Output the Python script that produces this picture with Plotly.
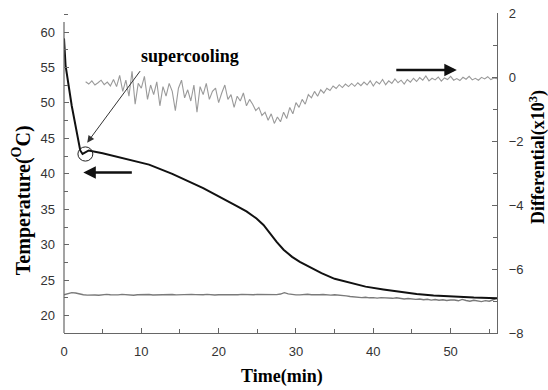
import plotly.graph_objects as go

# ---- data ----
# main (black) temperature curve, left axis
temp_time = [0.0, 0.2, 1.0, 2.1, 2.4, 2.8, 3.2, 5.0, 8.0, 11.0, 14.0, 16.3, 18.0, 19.7,
             21.0, 22.3, 23.6, 24.9, 25.8, 26.6, 27.5, 28.4, 29.5, 30.5, 32.0, 33.3,
             35.0, 37.0, 39.0, 41.3, 43.5, 45.6, 47.8, 49.9, 53.0, 56.0]
temp_main = [59.1, 55.3, 49.6, 43.3, 42.8, 43.0, 43.3, 42.9, 42.1, 41.3, 40.0, 38.9, 38.0, 37.0,
             36.3, 35.5, 34.7, 33.7, 32.8, 31.6, 30.4, 29.3, 28.3, 27.6, 26.7, 26.0,
             25.2, 24.6, 24.1, 23.7, 23.35, 23.05, 22.85, 22.7, 22.55, 22.45]

# lower (grey) temperature curve, left axis, sampled every 0.5 min
ref_step = 0.5
temp_ref = [22.95, 23.15, 23.25, 23.20, 23.05, 22.95, 22.90, 22.95, 22.92, 22.88, 22.95,
            23.00, 22.95, 22.90, 22.93, 23.00, 22.97, 22.90, 22.88, 22.95, 22.98,
            23.02, 22.98, 22.92, 22.95, 22.90, 22.96, 23.02, 22.99, 22.94, 22.97,
            22.90, 22.95, 23.00, 22.97, 22.93, 22.96, 23.01, 22.95, 22.91, 22.96,
            22.94, 22.99, 22.96, 22.92, 22.95, 23.00, 22.97, 22.93, 22.96, 22.99,
            22.98, 23.00, 22.95, 23.02, 22.97, 23.05, 23.25, 23.08, 22.97, 22.94,
            22.93, 22.98, 23.02, 22.96, 22.92, 22.95, 22.99, 22.94, 22.90, 22.95,
            22.92, 22.88, 22.80, 22.70, 22.62, 22.58, 22.55, 22.60, 22.52, 22.55,
            22.48, 22.55, 22.50, 22.42, 22.45, 22.52, 22.40, 22.35, 22.42, 22.33,
            22.30, 22.35, 22.25, 22.32, 22.20, 22.28, 22.18, 22.25, 22.15, 22.22,
            22.22, 22.10, 22.30, 22.15, 22.05, 22.18, 22.08, 21.98, 22.12, 22.05,
            22.25, 22.45]
ref_time = [ref_step * i for i in range(len(temp_ref))]

# differential signal (x10^3), right axis, sampled every 0.4 min from 2.8 min
diff_start = 2.8
diff_step = 0.4
differential = [
    -0.15, -0.22, -0.12, -0.25, -0.18, -0.10, -0.24, -0.16, -0.28, -0.08,
    -0.30, 0.05, -0.45, -0.10, -0.60, 0.18, -0.85, -0.20, -0.35, 0.02, -0.70,
    -0.25, -0.55, -0.15, -0.90, -0.30, -0.60, -0.20, -0.45, -1.05, -0.35, -0.10,
    -0.65, -0.40, -0.75, -0.25, -1.10, -0.30, -0.55, -0.20, -0.70, -0.45,
    -0.35, -0.80, -0.50, -0.25, -0.70, -0.55, -0.95, -0.60, -0.75, -0.50, -0.90, -0.70, -0.85,
    -1.05, -0.95, -1.20, -1.10, -1.35, -1.15, -1.45, -1.25, -1.40, -1.10,
    -1.30, -0.95, -1.15, -0.80, -0.95, -0.70, -0.85, -0.55, -0.65, -0.45, -0.60, -0.40, -0.50, -0.35,
    -0.42, -0.28, -0.36, -0.24, -0.33, -0.22, -0.30, -0.20, -0.29, -0.18, -0.27, -0.16, -0.25, -0.12,
    -0.28, -0.14, -0.22, -0.08, -0.24, -0.12, -0.20, -0.06, -0.18, -0.10, -0.22, -0.08, -0.16, -0.04,
    -0.14, -0.02, -0.10, 0.03, -0.12, -0.04, -0.09, 0.00, -0.13, -0.03, -0.08, 0.02, -0.10, -0.05,
    -0.11, -0.01, -0.07, 0.02, -0.09, -0.04, -0.10, -0.01, -0.06, 0.01, -0.08, -0.03, -0.05]
diff_time = [diff_start + diff_step * i for i in range(len(differential))]

x_title = "Time(min)"
y_title = "Temperature(<sup>O</sup>C)"
y2_title = "Differential(x10<sup>3</sup>)"
note = "supercooling"

# ---- figure ----
fig = go.Figure()
fig.add_trace(go.Scatter(x=ref_time, y=temp_ref, mode="lines",
                         line=dict(color="#7a7a7a", width=1.4), yaxis="y"))
fig.add_trace(go.Scatter(x=diff_time, y=differential, mode="lines",
                         line=dict(color="#9a9a9a", width=1.1), yaxis="y2"))
fig.add_trace(go.Scatter(x=temp_time, y=temp_main, mode="lines",
                         line=dict(color="#111111", width=2), yaxis="y"))

axis_col = "#666666"
tick_font = dict(family="Liberation Sans, Arial, sans-serif", size=13, color="#333333")
title_font = dict(family="Liberation Serif, Times New Roman, serif", size=18, color="#000000")

fig.update_layout(
    width=548, height=390,
    margin=dict(l=64, r=51, t=13, b=57, autoexpand=False),
    paper_bgcolor="white", plot_bgcolor="white",
    showlegend=False,
    xaxis=dict(range=[0, 56], dtick=10, tick0=0, ticks="inside", ticklen=5, tickcolor=axis_col,
               minor=dict(dtick=5, ticks="inside", ticklen=4, tickcolor=axis_col),
               showline=True, linecolor=axis_col, linewidth=1.2, showgrid=False, zeroline=False,
               tickfont=tick_font, ticklabelstandoff=6),
    yaxis=dict(range=[17.56, 62.68], dtick=5, tick0=0, ticks="inside", ticklen=5, tickcolor=axis_col,
               minor=dict(dtick=2.5, ticks="inside", ticklen=4, tickcolor=axis_col),
               showline=False, showgrid=False, zeroline=False,
               tickfont=tick_font, ticklabelstandoff=8),
    yaxis2=dict(range=[-8, 2], dtick=2, tick0=0, ticks="inside", ticklen=5, tickcolor=axis_col,
                minor=dict(dtick=1, ticks="inside", ticklen=4, tickcolor=axis_col),
                overlaying="y", side="right", anchor="x",
                showline=True, linecolor=axis_col, linewidth=1.2, showgrid=False, zeroline=False,
                tickfont=tick_font, ticklabelstandoff=8),
)

# left axis line (shorter than plot height, as in the reference)
fig.add_shape(type="line", xref="paper", yref="y", x0=0, x1=0, y0=17.56, y1=61.4,
              line=dict(color=axis_col, width=1.2))

# circle around the supercooling point
fig.add_shape(type="circle", xref="x", yref="y", x0=1.8, x1=3.73, y0=41.8, y1=43.8,
              line=dict(color="#222222", width=1))

annotations = [
    dict(text="<b>" + x_title + "</b>", xref="paper", yref="paper", x=0.5035, y=-0.1366,
         showarrow=False, xanchor="center", yanchor="middle", font=dict(title_font, size=18)),
    dict(text="<b>" + y_title + "</b>", xref="paper", yref="paper", x=-0.099, y=0.4156,
         showarrow=False, textangle=-90, xanchor="center", yanchor="middle",
         font=dict(title_font, size=20)),
    dict(text="<b>" + y2_title + "</b>", xref="paper", yref="paper", x=1.093, y=0.551,
         showarrow=False, textangle=-90, xanchor="center", yanchor="middle",
         font=dict(title_font, size=18)),
    dict(text="<b>" + note + "</b>", xref="x", yref="y", x=16.3, y=56.6, showarrow=False,
         xanchor="center", yanchor="middle", font=dict(title_font, size=18)),
    # thin pointer arrow to the supercooling point
    dict(text="", xref="x", yref="y", x=3.0, y=44.4, ax=54, ay=-73, showarrow=True,
         arrowhead=2, arrowwidth=1, arrowsize=1.4, arrowcolor="#333333"),
    # left-pointing arrow (temperature axis)
    dict(text="", xref="x", yref="y", x=2.5, y=40.2, ax=50, ay=0, showarrow=True,
         arrowhead=2, arrowwidth=2.5, arrowsize=1.0, arrowcolor="#111111"),
    # right-pointing arrow (differential axis)
    dict(text="", xref="x", yref="y2", x=50.8, y=0.22, ax=-62, ay=0, showarrow=True,
         arrowhead=2, arrowwidth=2.5, arrowsize=1.0, arrowcolor="#111111"),
]
fig.update_layout(annotations=annotations)

fig.write_html("out.html", config={"displayModeBar": False},
               post_script="document.body.style.margin='0';")
